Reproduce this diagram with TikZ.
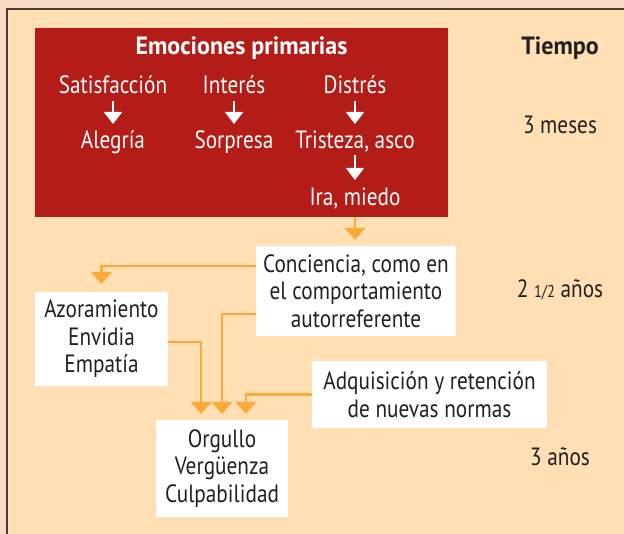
\documentclass[tikz,border=0pt]{standalone}
\usepackage{fontspec}
\setmainfont{PT Sans}[FakeStretch=0.85,BoldFeatures={FakeStretch=0.96}]
\usetikzlibrary{arrows.meta,calc}
\definecolor{outerbg}{HTML}{F9DAC5}
\definecolor{panel}{HTML}{FFDFB3}
\definecolor{boxred}{HTML}{B31C17}
\definecolor{lineor}{HTML}{FBAA3A}
\definecolor{frame}{HTML}{4A3A30}
\definecolor{txt}{HTML}{231F20}
\tikzset{
  redtxt/.style={text=white,font=\fontsize{25}{27.5}\selectfont,inner sep=0pt,text height=18pt,text depth=5pt},
  whitebox/.style={fill=white,draw=none,align=center,text=txt,font=\fontsize{25}{27.5}\selectfont,inner sep=0pt},
  timetxt/.style={text=txt,font=\fontsize{25}{27.5}\selectfont,inner sep=0pt},
  warrow/.style={draw=white,line width=2pt,-{Triangle[width=18pt,length=12pt]}},
  oarrow/.style={draw=lineor,line width=2.5pt,-{Triangle[width=21pt,length=12pt]}}
}
\begin{document}
\begin{tikzpicture}[x=1pt,y=-1pt]
\fill[outerbg] (0,0) rectangle (624,534);
\useasboundingbox (0,0) rectangle (624,534);
\fill[panel] (7,9) rectangle (630,540);
\draw[frame,line width=1.6pt] (7,540) -- (7,9) -- (630,9);
% red box
\node[fill=boxred,minimum width=413pt,minimum height=189pt,inner sep=0pt] (red) at (241.5,122.5) {};
\node[redtxt,font=\fontsize{25}{27.5}\selectfont\bfseries] (title) at (241.5,48) {Emociones primarias};
\node[redtxt] (sat) at (113,87) {Satisfacción};
\node[redtxt] (int) at (234,87) {Interés};
\node[redtxt] (dis) at (355,87) {Distrés};
\node[redtxt] (ale) at (113,142) {Alegría};
\node[redtxt] (sor) at (234,142) {Sorpresa};
\node[redtxt] (tri) at (355,142) {Tristeza, asco};
\node[redtxt] (ira) at (355,199) {Ira, miedo};
\draw[warrow] ([yshift=-14pt]sat.center) -- ([yshift=18pt]ale.center);
\draw[warrow] ([yshift=-14pt]int.center) -- ([yshift=18pt]sor.center);
\draw[warrow] ([yshift=-14pt]dis.center) -- ([yshift=18pt]tri.center);
\draw[warrow] ([yshift=-13pt]tri.center) -- ([yshift=19pt]ira.center);
% white boxes
\node[whitebox,minimum width=200pt,minimum height=90pt] (conc) at (356,291) {Conciencia, como en\\el comportamiento\\autorreferente};
\node[whitebox,minimum width=133pt,minimum height=94pt] (azo) at (101.5,339) {Azoramiento\\Envidia\\Empatía};
\node[whitebox,minimum width=235pt,minimum height=67pt] (adq) at (429.5,394.5) {Adquisición y retención\\de nuevas normas};
\node[whitebox,minimum width=132pt,minimum height=97pt] (org) at (222,468.5) {Orgullo\\Vergüenza\\Culpabilidad};
% orange connectors
\draw[oarrow,shorten >=6pt] (red.south -| ira) -- (conc.north -| ira);
\draw[oarrow,shorten >=8pt] ([yshift=25pt]conc.west) -| (azo.north);
\draw[oarrow,shorten >=6pt] ([yshift=-3pt]azo.east) -| ([xshift=-21pt]org.north);
\draw[oarrow,shorten >=6pt] ([yshift=-23pt]conc.west) -| (org.north);
\draw[oarrow,shorten >=6pt] (adq.west) -| ([xshift=24pt]org.north);
% time column
\node[timetxt,font=\fontsize{25}{27.5}\selectfont\bfseries] (tiempo) at (560,48) {Tiempo};
\node[timetxt] (t1) at (560,125) {3 meses};
\node[timetxt] (t2) at (560,290) {2 {\fontsize{17}{18}\selectfont 1/2} años};
\node[timetxt] (t3) at (560,457) {3 años};
\end{tikzpicture}
\end{document}
